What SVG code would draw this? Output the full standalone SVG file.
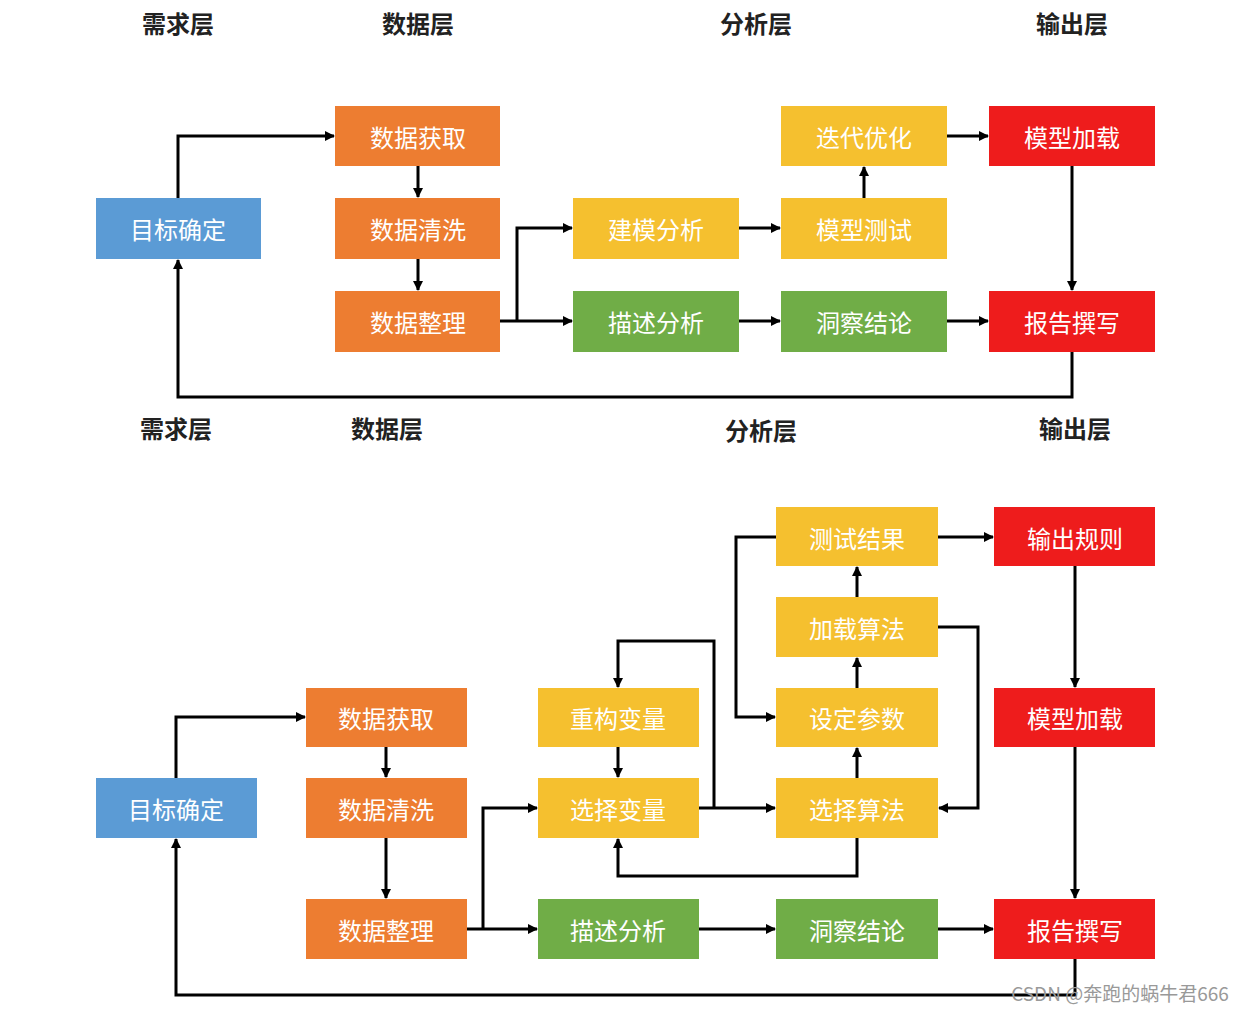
<svg xmlns="http://www.w3.org/2000/svg" width="1248" height="1011" viewBox="0 0 1248 1011">
<defs>
<marker id="a" markerWidth="10" markerHeight="10" refX="9" refY="5" orient="auto" markerUnits="userSpaceOnUse"><path d="M0,0 L10,5 L0,10 Z" fill="#000"/></marker>
<style>
.n text{font-family:"Noto Sans CJK SC",sans-serif;font-size:24px;fill:#fff;text-anchor:middle;dominant-baseline:central}
.b rect{fill:#5b9bd5}.o rect{fill:#ed7d31}.y rect{fill:#f5c02f}.g rect{fill:#70ad47}.r rect{fill:#ee1c1c}
.h{font-family:"Noto Sans CJK SC",sans-serif;font-size:24px;font-weight:bold;fill:#222;text-anchor:middle;dominant-baseline:central}
#c path{fill:none;stroke:#000;stroke-width:3;marker-end:url(#a)}
</style>
</defs>
<rect width="1248" height="1011" fill="#fff"/>
<text class="h" x="178" y="22">需求层</text><text class="h" x="418" y="22">数据层</text><text class="h" x="756" y="22">分析层</text><text class="h" x="1072" y="22">输出层</text>
<text class="h" x="176" y="427">需求层</text><text class="h" x="387" y="427">数据层</text><text class="h" x="761" y="429">分析层</text><text class="h" x="1075" y="427">输出层</text>
<g id="t1" class="n b"><rect x="96" y="198" width="165" height="61"/><text x="178" y="228">目标确定</text></g>
<g id="t2" class="n o"><rect x="335" y="106" width="165" height="60"/><text x="418" y="136">数据获取</text></g>
<g id="t3" class="n o"><rect x="335" y="198" width="165" height="61"/><text x="418" y="228">数据清洗</text></g>
<g id="t4" class="n o"><rect x="335" y="291" width="165" height="61"/><text x="418" y="321">数据整理</text></g>
<g id="t5" class="n y"><rect x="573" y="198" width="166" height="61"/><text x="656" y="228">建模分析</text></g>
<g id="t6" class="n g"><rect x="573" y="291" width="166" height="61"/><text x="656" y="321">描述分析</text></g>
<g id="t7" class="n y"><rect x="781" y="106" width="166" height="60"/><text x="864" y="136">迭代优化</text></g>
<g id="t8" class="n y"><rect x="781" y="198" width="166" height="61"/><text x="864" y="228">模型测试</text></g>
<g id="t9" class="n g"><rect x="781" y="291" width="166" height="61"/><text x="864" y="321">洞察结论</text></g>
<g id="t10" class="n r"><rect x="989" y="106" width="166" height="60"/><text x="1072" y="136">模型加载</text></g>
<g id="t11" class="n r"><rect x="989" y="291" width="166" height="61"/><text x="1072" y="321">报告撰写</text></g>
<g id="b1" class="n b"><rect x="96" y="778" width="161" height="60"/><text x="176" y="808">目标确定</text></g>
<g id="b2" class="n o"><rect x="306" y="688" width="161" height="59"/><text x="386" y="717">数据获取</text></g>
<g id="b3" class="n o"><rect x="306" y="778" width="161" height="60"/><text x="386" y="808">数据清洗</text></g>
<g id="b4" class="n o"><rect x="306" y="899" width="161" height="60"/><text x="386" y="929">数据整理</text></g>
<g id="b5" class="n y"><rect x="538" y="688" width="161" height="59"/><text x="618" y="717">重构变量</text></g>
<g id="b6" class="n y"><rect x="538" y="778" width="161" height="60"/><text x="618" y="808">选择变量</text></g>
<g id="b7" class="n g"><rect x="538" y="899" width="161" height="60"/><text x="618" y="929">描述分析</text></g>
<g id="b8" class="n y"><rect x="776" y="507" width="162" height="59"/><text x="857" y="537">测试结果</text></g>
<g id="b9" class="n y"><rect x="776" y="597" width="162" height="60"/><text x="857" y="627">加载算法</text></g>
<g id="b10" class="n y"><rect x="776" y="688" width="162" height="59"/><text x="857" y="717">设定参数</text></g>
<g id="b11" class="n y"><rect x="776" y="778" width="162" height="60"/><text x="857" y="808">选择算法</text></g>
<g id="b12" class="n g"><rect x="776" y="899" width="162" height="60"/><text x="857" y="929">洞察结论</text></g>
<g id="b13" class="n r"><rect x="994" y="507" width="161" height="59"/><text x="1075" y="537">输出规则</text></g>
<g id="b14" class="n r"><rect x="994" y="688" width="161" height="59"/><text x="1075" y="717">模型加载</text></g>
<g id="b15" class="n r"><rect x="994" y="899" width="161" height="60"/><text x="1075" y="929">报告撰写</text></g>
<g id="c">
<path d="M178,198 V136 H334"/><path d="M418,166 V197"/><path d="M418,259 V290"/>
<path d="M500,321 H572"/><path d="M517,321 V228 H572"/><path d="M739,228 H780"/><path d="M864,198 V167"/>
<path d="M947,136 H988"/><path d="M1072,166 V290"/><path d="M739,321 H780"/><path d="M947,321 H988"/>
<path d="M1072,352 V397 H178 V260"/>
<path d="M176,778 V717 H305"/><path d="M386,747 V777"/><path d="M386,838 V898"/>
<path d="M467,929 H537"/><path d="M483,929 V808 H537"/><path d="M618,747 V777"/><path d="M699,808 H775"/>
<path d="M714,808 V641 H618 V687"/><path d="M857,838 V876 H618 V839"/>
<path d="M857,778 V748"/><path d="M857,688 V658"/><path d="M857,597 V567"/>
<path d="M938,627 H978 V808 H939"/><path d="M776,537 H736 V717 H775"/>
<path d="M938,537 H993"/><path d="M1075,566 V687"/><path d="M1075,747 V898"/>
<path d="M699,929 H775"/><path d="M938,929 H993"/><path d="M1075,959 V995 H176 V839"/>
</g>
<text x="1120" y="992" font-family="'Noto Sans CJK SC',sans-serif" font-size="19" fill="#999" text-anchor="middle" dominant-baseline="central">CSDN @奔跑的蜗牛君666</text>
</svg>
